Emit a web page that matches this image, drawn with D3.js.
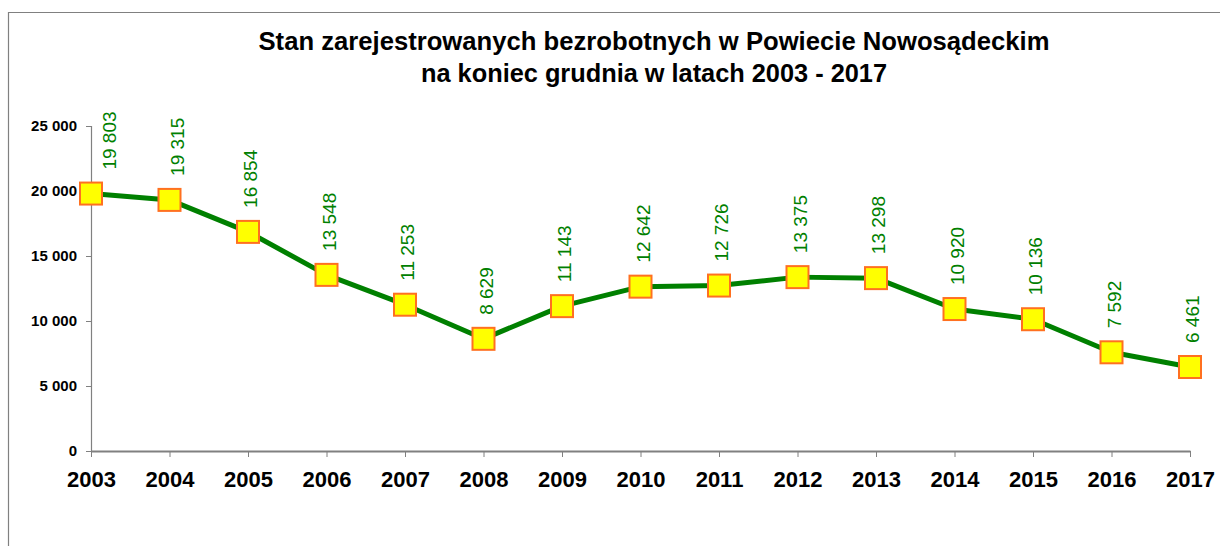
<!DOCTYPE html>
<html>
<head>
<meta charset="utf-8">
<script src="https://cdn.jsdelivr.net/npm/d3@7"></script>
<style>
  body { margin: 0; background: #fff; }
  svg { display: block; font-family: "Liberation Sans", Arial, sans-serif; }
</style>
</head>
<body>
<svg id="chart" width="1220" height="546"></svg>
<script>
// data
const years = ['2003', '2004', '2005', '2006', '2007', '2008', '2009', '2010',
  '2011', '2012', '2013', '2014', '2015', '2016', '2017'];
const unemployed = [19803, 19315, 16854, 13548, 11253, 8629, 11143, 12642,
  12726, 13375, 13298, 10920, 10136, 7592, 6461];
const yTicks = [0, 5000, 10000, 15000, 20000, 25000];
const titleLines = [
  'Stan zarejestrowanych  bezrobotnych w Powiecie Nowosądeckim',
  'na koniec grudnia w latach 2003  - 2017'
];

const pl = d3.formatLocale({ decimal: ',', thousands: ' ', grouping: [3], currency: ['', ''] });
const fmt = pl.format(',d');

const svg = d3.select('#chart');

// frame (only top and left edges are visible)
svg.append('path')
  .attr('d', 'M8.5,546 V12.5 H1220')
  .attr('fill', 'none')
  .attr('stroke', '#808080')
  .attr('stroke-width', 1.2);

// title
const titleLen = [791, 466];
svg.append('g')
  .selectAll('text')
  .data(titleLines)
  .enter()
  .append('text')
  .attr('x', 654)
  .attr('y', (d, i) => 50 + i * 32)
  .attr('text-anchor', 'middle')
  .attr('font-size', 25)
  .attr('font-weight', 'bold')
  .attr('textLength', (d, i) => titleLen[i])
  .attr('lengthAdjust', 'spacingAndGlyphs')
  .text(d => d);

const x = d3.scalePoint()
  .domain(years)
  .range([91, 1190]);

const y = d3.scaleLinear()
  .domain([0, 25000])
  .range([451, 126]);

// y axis
const yAxis = svg.append('g')
  .attr('transform', 'translate(91,0)')
  .call(d3.axisLeft(y).tickValues(yTicks).tickFormat(fmt).tickSize(5).tickPadding(9));
yAxis.select('.domain').attr('stroke', '#808080').attr('stroke-width', 1.2);
yAxis.selectAll('.tick line').attr('stroke', '#808080');
yAxis.selectAll('.tick text')
  .attr('font-size', 15)
  .attr('font-weight', 'bold')
  .attr('fill', '#000')
  .attr('font-family', '"Liberation Sans", Arial, sans-serif');

// x axis
const xAxis = svg.append('g')
  .attr('transform', 'translate(0,451)')
  .call(d3.axisBottom(x).tickSizeInner(6).tickSizeOuter(0).tickPadding(14));
xAxis.select('.domain').attr('stroke', '#808080').attr('stroke-width', 2.2);
xAxis.selectAll('.tick line').attr('stroke', '#808080');
xAxis.selectAll('.tick text')
  .attr('font-size', 22)
  .attr('font-weight', 'bold')
  .attr('fill', '#000')
  .attr('font-family', '"Liberation Sans", Arial, sans-serif');

const points = years.map((yr, i) => ({ year: yr, value: unemployed[i] }));

// line
const line = d3.line()
  .x(d => x(d.year))
  .y(d => y(d.value));

svg.append('path')
  .datum(points)
  .attr('d', line)
  .attr('fill', 'none')
  .attr('stroke', '#008000')
  .attr('stroke-width', 5)
  .attr('stroke-linejoin', 'round');

// markers
svg.append('g')
  .selectAll('rect')
  .data(points)
  .enter()
  .append('rect')
  .attr('x', d => x(d.year) - 11)
  .attr('y', d => y(d.value) - 11)
  .attr('width', 22)
  .attr('height', 22)
  .attr('fill', '#ffff00')
  .attr('stroke', '#ff7020')
  .attr('stroke-width', 2);

// the first two labels were nudged right in the original
const nudge = { '2003': 16, '2004': 5 };

svg.append('g')
  .selectAll('text')
  .data(points)
  .enter()
  .append('text')
  .attr('transform', d => `translate(${x(d.year) + 9 + (nudge[d.year] || 0)},${y(d.value) - 24}) rotate(-90)`)
  .attr('text-anchor', 'start')
  .attr('font-size', 19)
  .attr('fill', '#008000')
  .text(d => fmt(d.value));
</script>
</body>
</html>
